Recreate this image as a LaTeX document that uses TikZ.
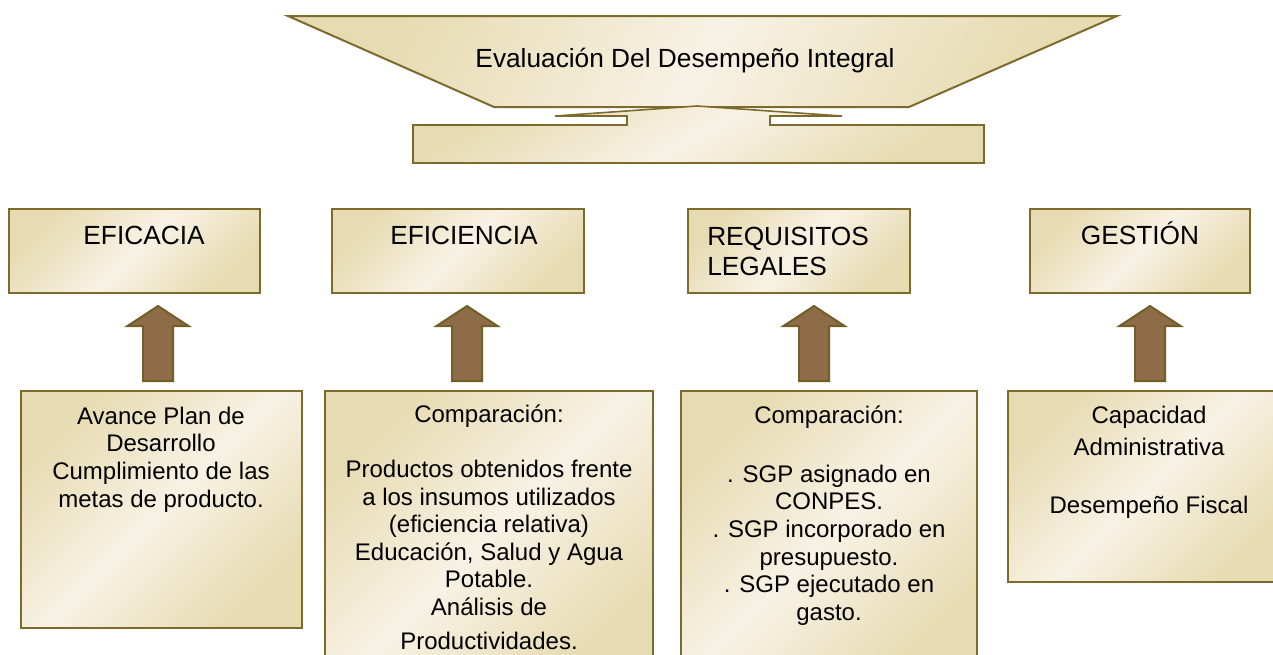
\documentclass[tikz,border=0pt]{standalone}
\usepackage{fontspec}
\setmainfont{Liberation Sans}
\definecolor{tanC}{RGB}{231,219,178}
\definecolor{lightC}{RGB}{247,242,228}
\definecolor{edgeC}{RGB}{125,106,45}
\definecolor{arrowC}{RGB}{142,108,72}
\definecolor{arrowEdge}{RGB}{112,96,40}
\tikzset{
  panel/.style={draw=edgeC, line width=1.5pt, line join=miter, shading=axis,
    top color=tanC, bottom color=tanC, middle color=lightC, shading angle=#1},
  panel/.default=45,
  toptext/.style={inner sep=0pt, font=\fontsize{19.7}{22.5}\selectfont},
  bottext/.style={inner sep=0pt, anchor=north, align=center,
    font=\fontsize{18}{20.7}\selectfont},
  uparrow/.pic={
    \draw[fill=arrowC, draw=arrowEdge, line width=1.5pt, line join=miter]
      (0,0) -- (30.5,20) -- (15,20) -- (15,75) -- (-15,75) -- (-15,20) -- (-30.5,20) -- cycle;
  }
}
\begin{document}
\begin{tikzpicture}[x=0.75pt, y=-0.75pt]
\useasboundingbox (0,0) rectangle (1273,654);
\fill[white] (0,0) rectangle (1273,654);
\clip (0,0) rectangle (1273,654);

% header
\draw[panel=60] (288,16) -- (1117,16) -- (909,107) -- (494,107) -- cycle;
\draw[panel=30, line width=1.2pt] (413,125) -- (627,125) -- (627,116) -- (555,116) -- (697,106)
  -- (842,116) -- (770,116) -- (770,125) -- (984,125) -- (984,163) -- (413,163) -- cycle;
\node[toptext, anchor=base] (title) at (685,67) {Evaluación Del Desempeño Integral};

% top boxes
\draw[panel] (9,209) rectangle (260,293);
\draw[panel] (332,209) rectangle (584,293);
\draw[panel] (688,209) rectangle (910,293);
\draw[panel] (1030,209) rectangle (1250,293);
\node[toptext, anchor=base] (eficacia) at (144,244) {EFICACIA};
\node[toptext, anchor=base] (eficiencia) at (464,244) {EFICIENCIA};
\node[toptext, anchor=north west, align=left] (requisitos) at (707,225)
  {\rule{0pt}{15pt}REQUISITOS\\LEGALES};
\node[toptext, anchor=base] (gestion) at (1140,244) {GESTIÓN};

% arrows
\pic at (158,306) {uparrow};
\pic at (467,306) {uparrow};
\pic at (814,306) {uparrow};
\pic at (1150,306) {uparrow};

% bottom boxes
\draw[panel] (21,391) rectangle (302,628);
\draw[panel] (325,391) rectangle (653,680);
\draw[panel] (681,391) rectangle (977,680);
\draw[panel] (1008,391) rectangle (1290,582);

\node[bottext] (avance) at (161,404)
  {\rule{0pt}{15pt}Avance Plan de\\Desarrollo\\Cumplimiento de las\\metas de producto.};
\node[bottext] (comp1) at (489,402)
  {\rule{0pt}{15pt}Comparación:\\[20.7pt]Productos obtenidos frente\\a los insumos utilizados\\(eficiencia relativa)\\Educación, Salud y Agua\\Potable.\\Análisis de\\[4.5pt]Productividades.};
\node[bottext] (comp2) at (829,403)
  {\rule{0pt}{15pt}Comparación:\\[23.5pt]. SGP asignado en\\CONPES.\\. SGP incorporado en\\presupuesto.\\. SGP ejecutado en\\gasto.};
\node[bottext] (capacidad) at (1149,403)
  {\rule{0pt}{15pt}Capacidad\\[3.3pt]Administrativa\\[22.8pt]Desempeño Fiscal};
\end{tikzpicture}
\end{document}
